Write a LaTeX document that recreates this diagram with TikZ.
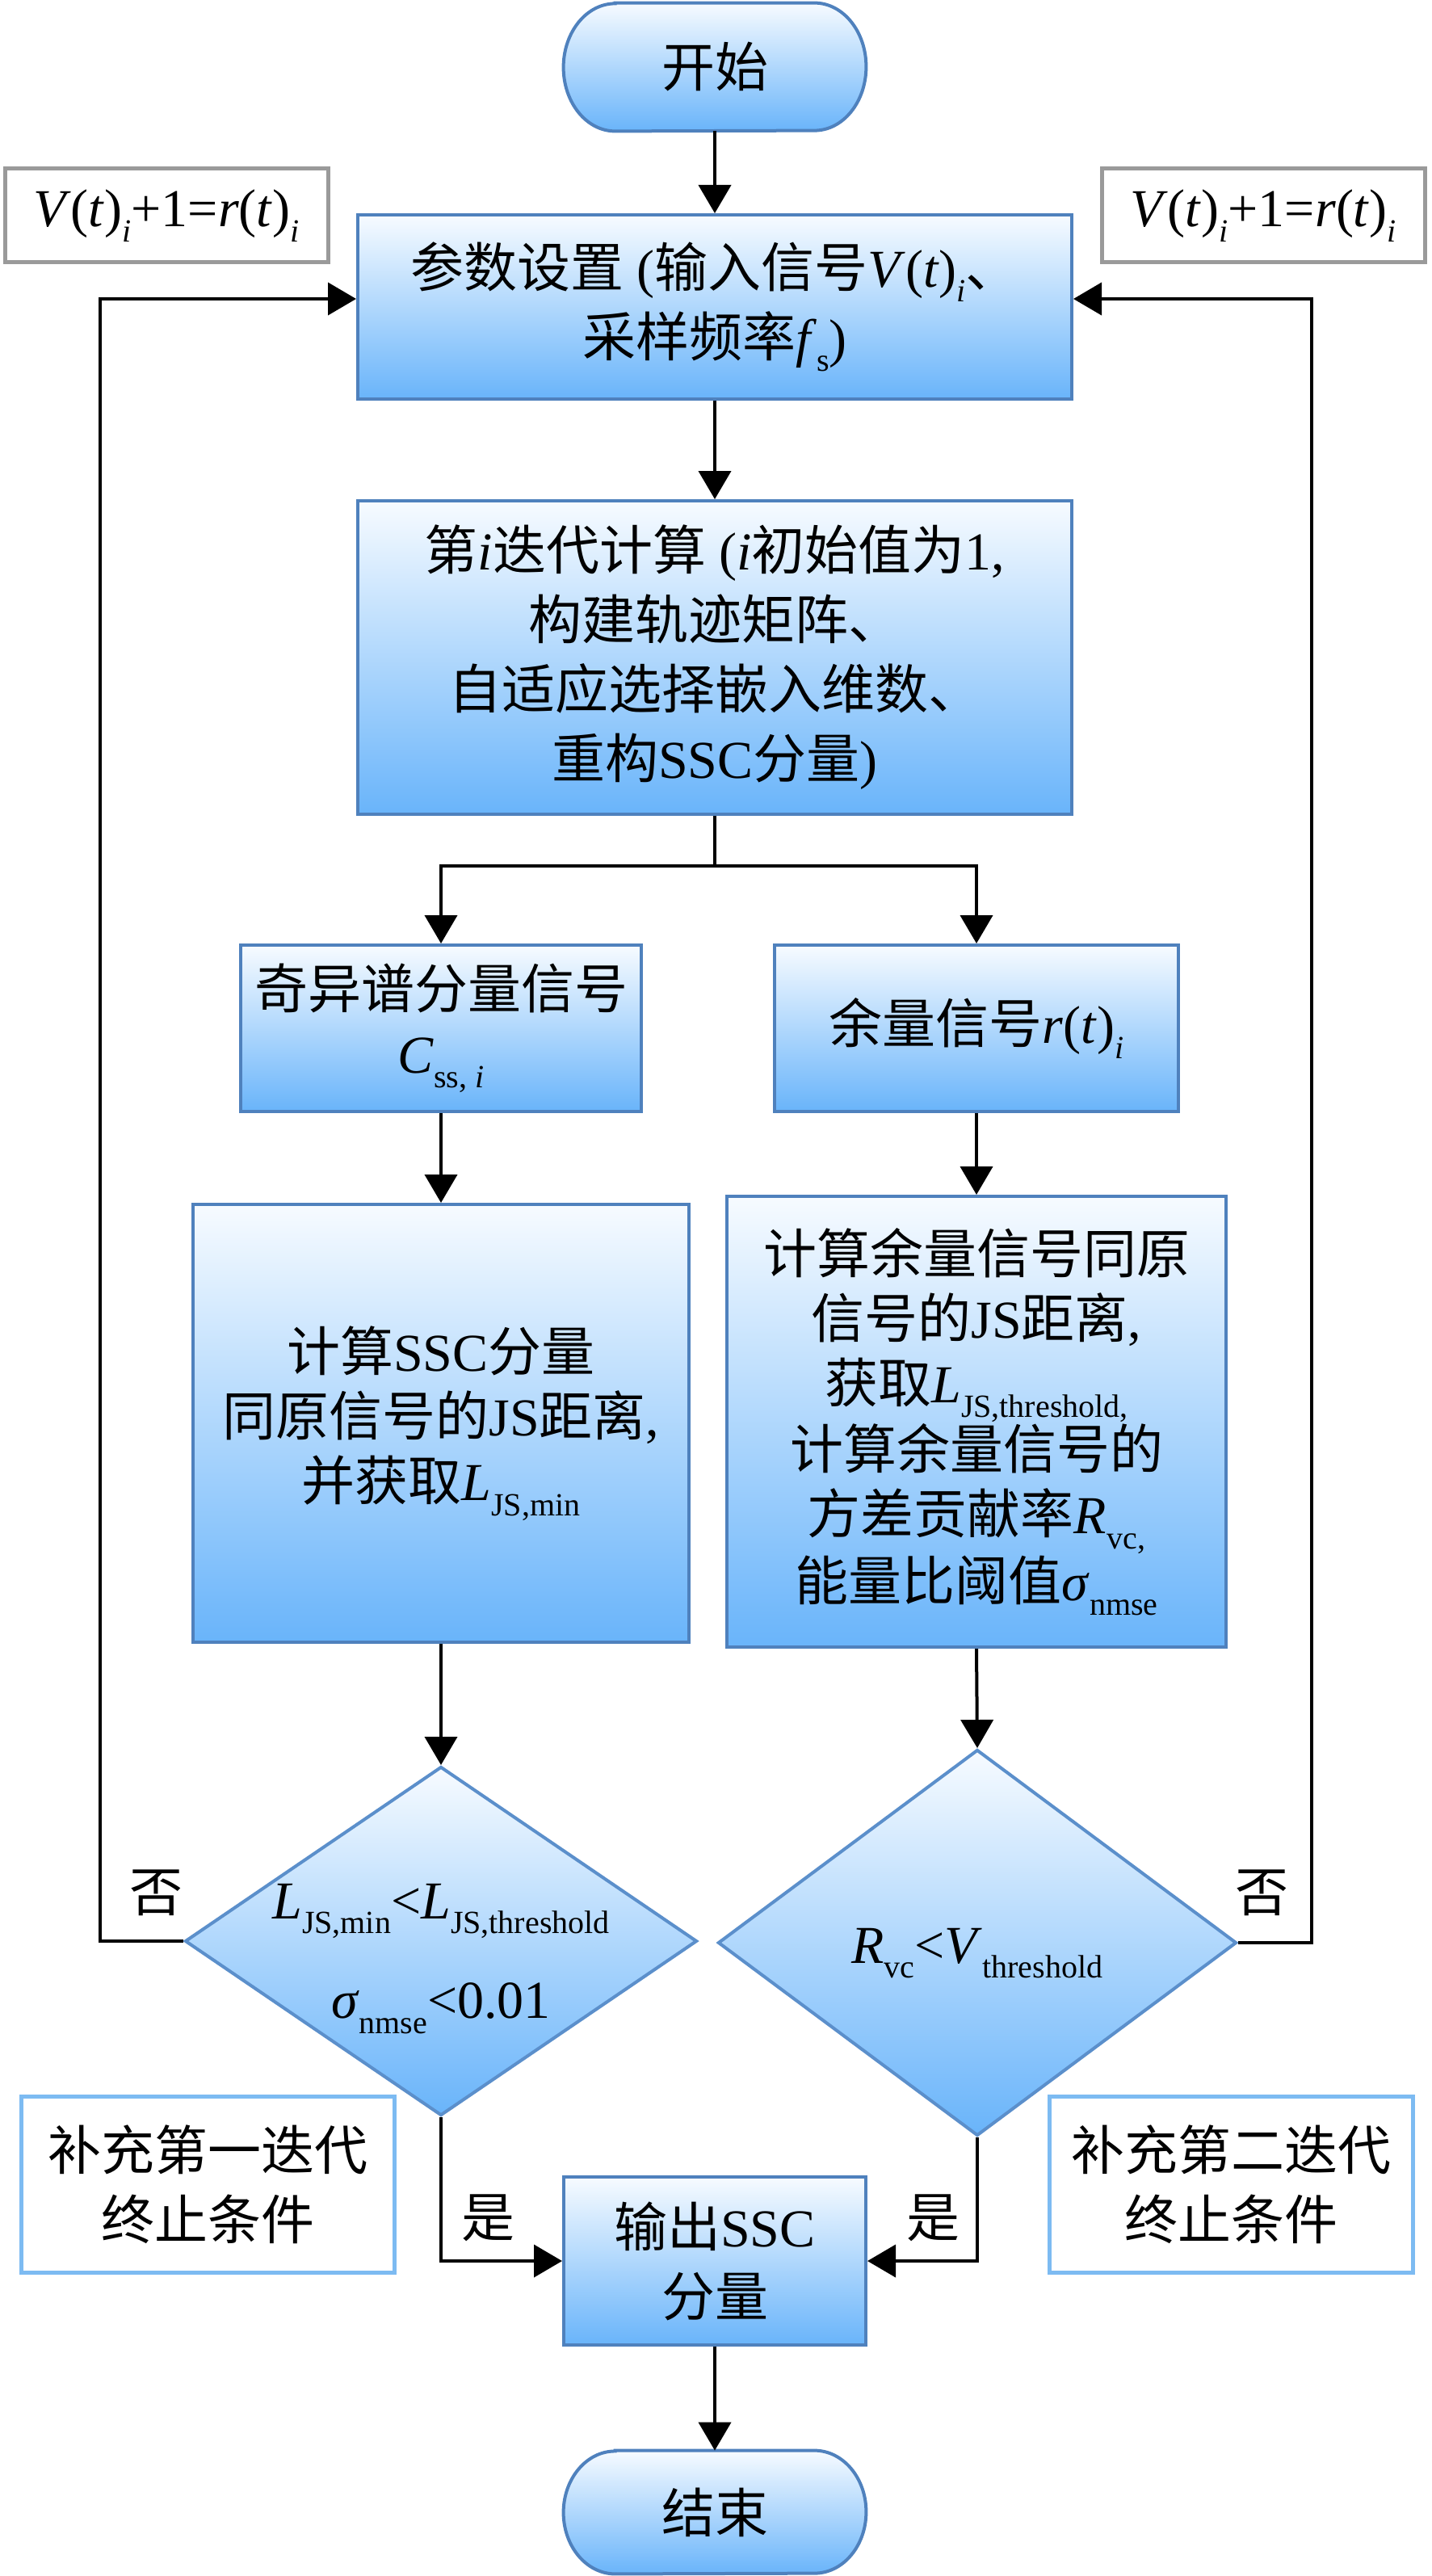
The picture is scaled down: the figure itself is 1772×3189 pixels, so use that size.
\documentclass[tikz,border=0pt]{standalone}
\usepackage{fontspec}
\setmainfont{Liberation Serif}
\newfontfamily\cjk{Noto Sans CJK SC}
\usetikzlibrary{shapes.geometric,arrows.meta,calc,backgrounds}
\definecolor{bord}{HTML}{4F81BD}
\definecolor{topc}{HTML}{F7FBFF}
\definecolor{botc}{HTML}{69B4FA}
\definecolor{diab}{HTML}{5B8FCB}
\definecolor{noteb}{HTML}{7DBBF2}
\definecolor{grayb}{HTML}{9A9A9A}
\newcommand\zh[1]{{\cjk #1}}
\newcommand\mi[1]{\textit{#1}}
\newcommand\sbs[1]{\raisebox{-0.28em}{\fontsize{20}{20}\selectfont #1}}
\tikzset{
  base/.style={font=\fontsize{33}{40}\selectfont, align=center, inner sep=0pt},
  wide/.style={font=\fontsize{33}{43}\selectfont},
  proc/.style={base, rectangle, draw=bord, line width=2pt, top color=topc, bottom color=botc},
  dia/.style={diamond, draw=diab, line width=2pt, top color=topc, bottom color=botc, inner sep=0pt},
  gnote/.style={base, rectangle, draw=grayb, line width=2.5pt, fill=white},
  bnote/.style={base, rectangle, draw=noteb, line width=2.5pt, fill=white},
  pill/.style={draw=bord, line width=2pt, top color=topc, bottom color=botc},
  conn/.style={line width=2pt, -{Triangle[length=17.5pt,width=20pt]}},
  plain/.style={line width=2pt},
  lbl/.style={base}
}
\begin{document}
\begin{tikzpicture}[x=0.5pt,y=-0.5pt]
\useasboundingbox (0,0) rectangle (1772,3189);

% start
\node[base, minimum width=187pt, minimum height=79pt] (s) at (885,83) {\zh{开始}};
% end
\node[base, minimum width=187pt, minimum height=76pt] (e) at (885,3110) {\zh{结束}};
\begin{scope}[on background layer]
\path[pill] ([xshift=32pt]s.north west) -- ([xshift=-32pt]s.north east)
  arc[start angle=90,end angle=-90,x radius=32pt,y radius=39.5pt]
  -- ([xshift=32pt]s.south west)
  arc[start angle=270,end angle=90,x radius=32pt,y radius=39.5pt] -- cycle;
\path[pill] ([xshift=32pt]e.north west) -- ([xshift=-32pt]e.north east)
  arc[start angle=90,end angle=-90,x radius=32pt,y radius=38pt]
  -- ([xshift=32pt]e.south west)
  arc[start angle=270,end angle=90,x radius=32pt,y radius=38pt] -- cycle;
\end{scope}

% notes top
\node[gnote, minimum width=200pt, minimum height=58pt] (n1) at (206,267)
  {\mi{V}(\mi{t})\sbs{\mi{i}}+1=\mi{r}(\mi{t})\sbs{\mi{i}}};
\node[gnote, minimum width=200pt, minimum height=58pt] (n2) at (1564,267)
  {\mi{V}(\mi{t})\sbs{\mi{i}}+1=\mi{r}(\mi{t})\sbs{\mi{i}}};

% parameter box
\node[proc, wide, minimum width=442pt, minimum height=114pt] (p) at (885,380)
  {\zh{参数设置} (\zh{输入信号}\mi{V}(\mi{t})\sbs{\mi{i}}\zh{、}\\
   \zh{采样频率}\mi{f}\sbs{s})};

% iteration box
\node[proc, wide, minimum width=442pt, minimum height=194pt] (c) at (885,814)
  {\zh{第}\mi{i}\zh{迭代计算} (\mi{i}\zh{初始值为}1,\\
   \zh{构建轨迹矩阵、}\\
   \zh{自适应选择嵌入维数、}\\
   \zh{重构}SSC\zh{分量})};

% second row
\node[proc, minimum width=248pt, minimum height=103pt] (a1) at (546,1273)
  {\zh{奇异谱分量信号}\\ \mi{C}\sbs{ss, \mi{i}}};
\node[proc, minimum width=250pt, minimum height=103pt] (b1) at (1209,1273)
  {\zh{余量信号}\mi{r}(\mi{t})\sbs{\mi{i}}};

% third row
\node[proc, minimum width=307pt, minimum height=271pt] (a2) at (546,1762)
  {\zh{计算}SSC\zh{分量}\\
   \zh{同原信号的}JS\zh{距离},\\
   \zh{并获取}\mi{L}\sbs{JS,min}};
\node[proc, minimum width=309pt, minimum height=279pt] (b2) at (1209,1760)
  {\zh{计算余量信号同原}\\
   \zh{信号的}JS\zh{距离},\\
   \zh{获取}\mi{L}\sbs{JS,threshold,}\\
   \zh{计算余量信号的}\\
   \zh{方差贡献率}\mi{R}\sbs{vc,}\\
   \zh{能量比阈值}\mi{σ}\sbs{nmse}};

% diamonds
\node[dia, minimum width=317pt, minimum height=216pt] (d1) at (546,2403) {};
\node[dia, minimum width=321pt, minimum height=239pt] (d2) at (1210,2405) {};
\node[lbl] (d1t1) at (546,2366) {\mi{L}\sbs{JS,min}<\mi{L}\sbs{JS,threshold}};
\node[lbl] (d1t2) at (546,2486) {\mi{σ}\sbs{nmse}<0.01};
\node[lbl] (d2t) at (1210,2418) {\mi{R}\sbs{vc}<\mi{V}\sbs{threshold}};

% bottom notes
\node[bnote, wide, minimum width=231pt, minimum height=109pt] (n3) at (257,2704)
  {\zh{补充第一迭代}\\ \zh{终止条件}};
\node[bnote, wide, minimum width=225pt, minimum height=109pt] (n4) at (1524,2704)
  {\zh{补充第二迭代}\\ \zh{终止条件}};

% output
\node[proc, wide, minimum width=187pt, minimum height=104pt] (o) at (885,2799)
  {\zh{输出}SSC\\ \zh{分量}};

% labels
\node[lbl] (no1) at (193,2343) {\zh{否}};
\node[lbl] (no2) at (1562,2343) {\zh{否}};
\node[lbl] (y1) at (604,2746) {\zh{是}};
\node[lbl] (y2) at (1155,2746) {\zh{是}};

% coordinates
\coordinate (sp) at (885,1072);
\coordinate (lx) at (124,0);
\coordinate (rx) at (1624,0);

% connectors
\draw[conn] (s.south) -- (p.north);
\draw[conn] (p.south) -- (c.north);
\draw[plain] (c.south) -- (sp);
\draw[conn] (sp) -| (a1.north);
\draw[conn] (sp) -| (b1.north);
\draw[conn] (a1.south) -- (a2.north);
\draw[conn] (b1.south) -- (b2.north);
\draw[conn] (a2.south) -- (d1.north);
\draw[conn] (b2.south) -- (d2.north);
\draw[conn] (d1.west) -- (d1.west -| lx) |- ([yshift=5pt]p.west);
\draw[conn] (d2.east) -- (d2.east -| rx) |- ([yshift=5pt]p.east);
\draw[conn] (d1.south) |- (o.west);
\draw[conn] (d2.south) |- (o.east);
\draw[conn] (o.south) -- (e.north);
\end{tikzpicture}
\end{document}
